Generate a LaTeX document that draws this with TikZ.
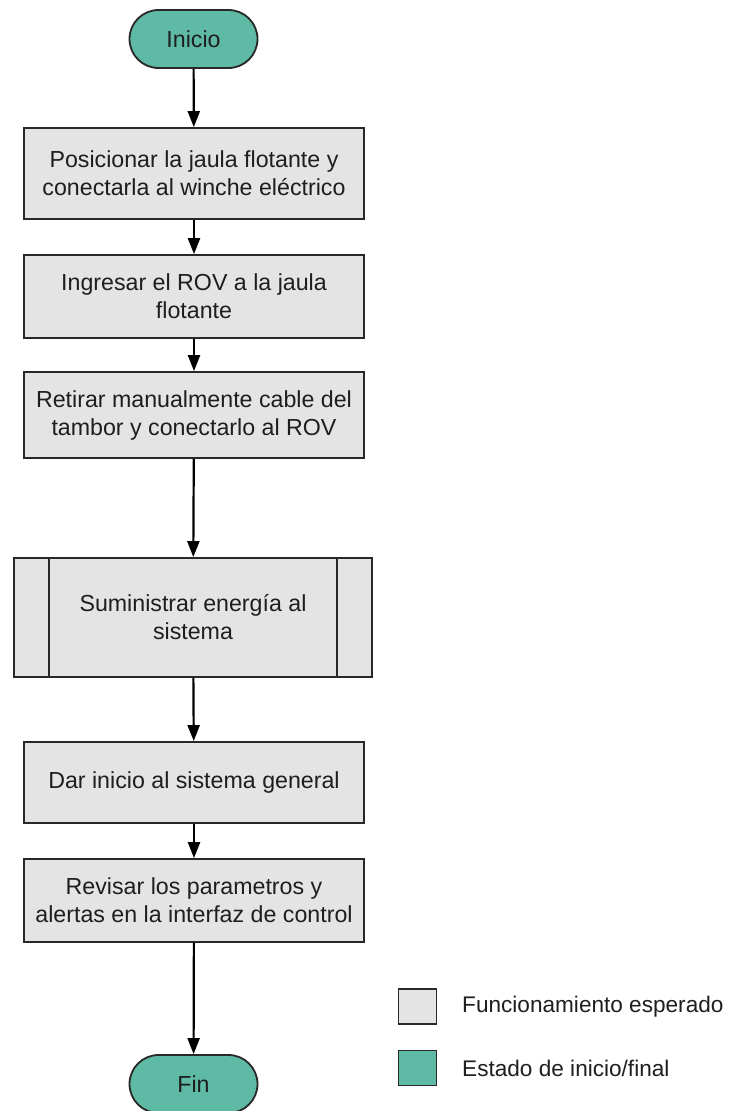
\documentclass[tikz,border=0pt]{standalone}
\usepackage{fontspec}
\setmainfont{Liberation Sans}
\usetikzlibrary{arrows.meta}
\definecolor{teal1}{RGB}{94,186,165}
\definecolor{boxgray}{RGB}{228,228,228}
\definecolor{edge}{RGB}{40,40,40}
\definecolor{ink}{RGB}{30,30,30}
\tikzset{
  term/.style={draw=edge, line width=1.8pt, fill=teal1, rounded corners=29pt,
    minimum width=128pt, minimum height=58pt, inner sep=0pt, text=ink},
  proc/.style={draw=edge, line width=1.8pt, fill=boxgray, minimum width=340pt,
    inner sep=0pt, align=center, text=ink},
  sub/.style={proc, minimum width=358pt},
  flow/.style={draw=black, line width=2.2pt, -{Triangle[width=12pt,length=16pt]}},
  keybox/.style={draw=edge, line width=1.8pt, minimum width=38pt, minimum height=35pt, inner sep=0pt},
  keytext/.style={anchor=west, text=ink, inner sep=0pt, font=\fontsize{22.6}{27}\selectfont}
}
\begin{document}
\begin{tikzpicture}[x=1pt, y=-1pt, every node/.style={font=\fontsize{23.2}{28}\selectfont}]
\useasboundingbox (0,0) rectangle (735,1111);

\node[term] (ini) at (193.5,39) {Inicio};
\node[proc, minimum height=91pt] (p1) at (194,173.5) {Posicionar la jaula flotante y\\conectarla al winche eléctrico};
\node[proc, minimum height=83pt] (p2) at (194,296.5) {Ingresar el ROV a la jaula\\flotante};
\node[proc, minimum height=86pt] (p3) at (194,415) {Retirar manualmente cable del\\tambor y conectarlo al ROV};
\node[sub, minimum height=119pt] (p4) at (193,617.5) {Suministrar energía al\\sistema};
\draw[edge, line width=1.8pt] ([xshift=36pt]p4.north west) -- ([xshift=36pt]p4.south west);
\draw[edge, line width=1.8pt] ([xshift=-36pt]p4.north east) -- ([xshift=-36pt]p4.south east);
\node[proc, minimum height=81pt] (p5) at (194,782.5) {Dar inicio al sistema general};
\node[proc, minimum height=83pt] (p6) at (194,900.5) {Revisar los parametros y\\alertas en la interfaz de control};
\node[term] (fin) at (193.5,1084) {Fin};

\draw[flow] (ini) -- (p1);
\draw[flow] (p1) -- (p2);
\draw[flow] (p2) -- (p3);
\draw[flow] (p3) -- (p4);
\draw[flow] (p4) -- (p5);
\draw[flow] (p5) -- (p6);
\draw[flow] (p6) -- (fin);

\node[keybox, fill=boxgray] (k1) at (417.5,1006.5) {};
\node[keybox, fill=teal1] (k2) at (417.5,1068) {};
\node[keytext] (t1) at (462,1006.5) {Funcionamiento esperado};
\node[keytext] (t2) at (462,1068) {Estado de inicio/final};
\end{tikzpicture}
\end{document}
